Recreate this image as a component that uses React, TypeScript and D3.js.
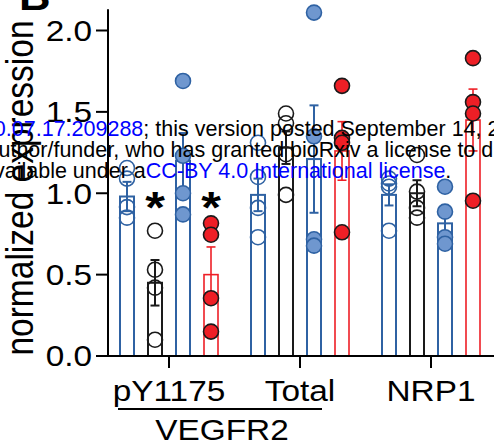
import React from "react";
import * as d3 from "d3";

// ---- data ----
const groups = ["pY1175", "Total", "NRP1"];
const conditions = ["ctrlOpenBlue", "openBlack", "filledBlue", "filledRed"];
const yTicks = [0, 0.5, 1.0, 1.5, 2.0];

const meansPY1175 = [0.98, 0.45, 1.2, 0.5];
const meansTotal = [0.99, 1.28, 1.21, 1.26];
const meansNRP1 = [0.99, 1.0, 0.815, 1.45];

const semPY1175 = [0.09, 0.14, 0.17, 0.17];
const semTotal = [0.1, 0.1, 0.33, 0.18];
const semNRP1 = [0.065, 0.08, 0.075, 0.19];

const ptsPY1175 = [
  [1.155, 1.09, 0.915, 0.85],
  [0.77, 0.53, 0.42, 0.1],
  [1.69, 1.23, 1.0, 0.87],
  [0.815, 0.745, 0.355, 0.15],
];
const ptsTotal = [
  [1.31, 1.1, 0.91, 0.73],
  [1.49, 1.43, 1.24, 0.99],
  [2.11, 1.35, 0.717, 0.678],
  [1.66, 1.34, 1.31, 0.76],
];
const ptsNRP1 = [
  [1.09, 1.06, 1.04, 0.77],
  [1.235, 1.01, 0.91, 0.85],
  [1.04, 0.887, 0.73, 0.69],
  [1.83, 1.56, 1.49, 0.954],
];
const significant = [
  [false, true, false, true],
  [false, false, false, false],
  [false, false, false, false],
];

const means = [meansPY1175, meansTotal, meansNRP1];
const sems = [semPY1175, semTotal, semNRP1];
const points = [ptsPY1175, ptsTotal, ptsNRP1];

// ---- styles ----
const BLUE = "#2f62a3";
const BLUE_FILL = "#6f97cf";
const BLACK = "#1a1a1a";
const RED = "#ee1f26";
const condStyle = [
  { bar: BLUE, barW: 2, dotFill: "none", dotStroke: BLUE },
  { bar: BLACK, barW: 2, dotFill: "none", dotStroke: BLACK },
  { bar: BLUE, barW: 2, dotFill: BLUE_FILL, dotStroke: BLUE },
  { bar: RED, barW: 1.6, dotFill: RED, dotStroke: BLACK },
];

const W = 494;
const H = 447;
const SX = 1.15;
const FONT = "Liberation Sans, Arial, Helvetica, sans-serif";

export default function App() {
  const y = d3.scaleLinear().domain([0, 2]).range([356, 30.5]);
  const xg = d3.scalePoint<string>().domain(groups).range([169, 431]);
  const xc = d3.scalePoint<string>().domain(conditions).range([-42, 42]);
  const barW = 14;
  const capW = 9;
  const r = 7.5;
  const axisX = 108;
  const y0 = y(0);

  return (
    <svg
      width={W}
      height={H}
      viewBox={`0 0 ${W} ${H}`}
      style={{ position: "absolute", left: 0, top: 0, background: "#fff" }}
      fontFamily={FONT}
    >
      <rect width={W} height={H} fill="#fff" />
      {/* panel letter */}
      <g transform={`translate(19,10) scale(${SX},1)`}>
        <text x={0} y={0} fontSize={38} fontWeight="bold" fill="#000">
          B
        </text>
      </g>

      {/* y label */}
      <g transform={`translate(33,188) scale(${SX},1) rotate(-90)`}>
        <text x={0} y={0} fontSize={33.5} textAnchor="middle" fill="#000">
          normalized expression
        </text>
      </g>

      {/* bars */}
      {groups.map((g, gi) =>
        conditions.map((c, ci) => {
          const cx = (xg(g) as number) + (xc(c) as number);
          const m = means[gi][ci];
          return (
            <rect
              key={`b${gi}${ci}`}
              x={cx - barW / 2}
              y={y(m)}
              width={barW}
              height={y0 - y(m)}
              fill="none"
              stroke={condStyle[ci].bar}
              strokeWidth={condStyle[ci].barW}
            />
          );
        })
      )}

      {/* error bars */}
      {groups.map((g, gi) =>
        conditions.map((c, ci) => {
          const cx = (xg(g) as number) + (xc(c) as number);
          const m = means[gi][ci];
          const s = sems[gi][ci];
          const col = condStyle[ci].bar;
          const sw = condStyle[ci].barW;
          return (
            <g key={`e${gi}${ci}`} stroke={col} strokeWidth={sw}>
              <line x1={cx} x2={cx} y1={y(m + s)} y2={y(m - s)} />
              <line x1={cx - capW / 2} x2={cx + capW / 2} y1={y(m + s)} y2={y(m + s)} />
              <line x1={cx - capW / 2} x2={cx + capW / 2} y1={y(m - s)} y2={y(m - s)} />
            </g>
          );
        })
      )}

      {/* points */}
      {groups.map((g, gi) =>
        conditions.map((c, ci) => {
          const cx = (xg(g) as number) + (xc(c) as number);
          return points[gi][ci].map((v, pi) => (
            <circle
              key={`p${gi}${ci}${pi}`}
              cx={cx}
              cy={y(v)}
              r={r}
              fill={condStyle[ci].dotFill}
              stroke={condStyle[ci].dotStroke}
              strokeWidth={1.6}
            />
          ));
        })
      )}

      {/* significance asterisks */}
      {groups.map((g, gi) =>
        conditions.map((c, ci) =>
          significant[gi][ci] ? (
            <g
              key={`s${gi}${ci}`}
              transform={`translate(${(xg(g) as number) + (xc(c) as number)},${y(1.0) + 30}) scale(${SX},1)`}
            >
              <text x={0} y={0} fontSize={44} fontWeight="bold" textAnchor="middle" fill="#000">
                *
              </text>
            </g>
          ) : null
        )
      )}

      {/* y axis */}
      <line x1={axisX} x2={axisX} y1={y(2.13)} y2={y0 + 1} stroke="#000" strokeWidth={2} />
      {yTicks.map((t) => (
        <g key={`yt${t}`}>
          <line x1={axisX - 12} x2={axisX} y1={y(t)} y2={y(t)} stroke="#000" strokeWidth={2} />
          <g transform={`translate(${axisX - 16},${y(t)}) scale(${SX},1)`}>
            <text x={0} y={0} dy="0.36em" fontSize={29} textAnchor="end" fill="#000">
              {d3.format(".1f")(t)}
            </text>
          </g>
        </g>
      ))}

      {/* x axis */}
      <line x1={axisX - 12} x2={W} y1={y0} y2={y0} stroke="#000" strokeWidth={2} />
      {groups.map((g) => (
        <g key={`xt${g}`}>
          <line x1={xg(g)} x2={xg(g)} y1={y0} y2={y0 + 12} stroke="#000" strokeWidth={2} />
          <g transform={`translate(${xg(g)},401) scale(${SX},1)`}>
            <text x={0} y={0} fontSize={29} textAnchor="middle" fill="#000">
              {g}
            </text>
          </g>
        </g>
      ))}
      <line x1={118} x2={322} y1={409} y2={409} stroke="#000" strokeWidth={2} />
      <g transform={`translate(222,440) scale(${SX},1)`}>
        <text x={0} y={0} fontSize={29} textAnchor="middle" fill="#000">
          VEGFR2
        </text>
      </g>

      {/* bioRxiv watermark */}
      <g fontSize={21.5} fontFamily={FONT}>
        <text x={-42} y={136} fill="#000">
          <tspan fill="#0000ff">2020.07.17.209288</tspan>
          <tspan>; this version posted September 14, 2020. The copyright holder</tspan>
        </text>
        <text x={-13.5} y={157} fill="#000">
          author/funder, who has granted bioRxiv a license to display the preprint
        </text>
        <text x={-18} y={178} fill="#000">
          <tspan>available under a</tspan>
          <tspan fill="#0000ff">CC-BY 4.0 International license</tspan>
          <tspan>.</tspan>
        </text>
      </g>
    </svg>
  );
}
